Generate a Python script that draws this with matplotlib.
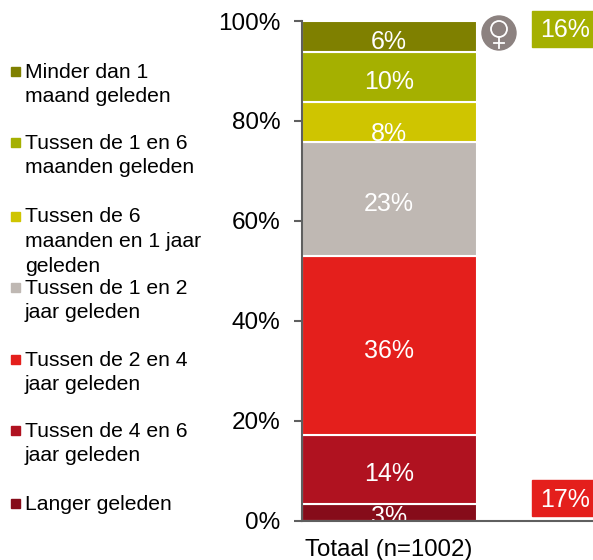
import matplotlib
matplotlib.use("Agg")
import matplotlib.pyplot as plt
from matplotlib.patches import Circle, Rectangle

plt.rcParams['font.family'] = ['Liberation Sans', 'DejaVu Sans']

category = 'Totaal (n=1002)'
values = [3.4, 13.7, 35.8, 22.8, 8.0, 10.0, 6.3]
colors = ['#860C1A', '#B01220', '#E41F1C', '#BFB8B3', '#CFC500', '#A5B000', '#7F8000']
legend_labels = ['Langer geleden', 'Tussen de 4 en 6\njaar geleden',
                 'Tussen de 2 en 4\njaar geleden', 'Tussen de 1 en 2\njaar geleden',
                 'Tussen de 6\nmaanden en 1 jaar\ngeleden', 'Tussen de 1 en 6\nmaanden geleden',
                 'Minder dan 1\nmaand geleden']
legend_y = [504, 443, 372, 300, 241, 155, 84]
yticks = [0, 20, 40, 60, 80, 100]
female_share = '16%'
male_share = '17%'

W, H = 593, 560
axis_col = '#5F5F5F'

fig = plt.figure(figsize=(W / 100, H / 100), dpi=100)
ax = fig.add_axes([301.5 / W, 1 - 520.5 / H, 291.5 / W, 499.5 / H])

bottom = 0
for v, c in zip(values, colors):
    ax.bar(0, v, 1, bottom=bottom, color=c, edgecolor='white', linewidth=1.5, zorder=2)
    # labels sit a bit low in the segments
    off = -8 if round(v) == 8 else -3.5
    ax.annotate('{0}%'.format(round(v)), (0, bottom + v / 2), xytext=(0, off),
                textcoords='offset points', ha='center', va='center',
                color='white', fontsize=18, zorder=3)
    bottom += v

ax.set_xlim(-0.5, -0.5 + 291.5 / 175)
ax.set_ylim(0, 100)
ax.set_xticks([0], [category])
ax.set_yticks(yticks, ['{0}%'.format(t) for t in yticks])
ax.tick_params(axis='x', length=0, labelsize=17.3, pad=13.5)
ax.tick_params(axis='y', length=6, width=1.5, color=axis_col, labelsize=17.5, pad=9)
for s in ['top', 'right']:
    ax.spines[s].set_visible(False)
for s in ['left', 'bottom']:
    ax.spines[s].set_color(axis_col)
    ax.spines[s].set_linewidth(1.5)
    ax.spines[s].set_zorder(4)

# overlay in pixel coordinates for the legend and the callouts
ov = fig.add_axes([0, 0, 1, 1], facecolor='none')
ov.set_xlim(0, W)
ov.set_ylim(H, 0)
ov.axis('off')

for lab, y, c in zip(legend_labels, legend_y, colors):
    n = lab.count('\n')
    ov.add_patch(Rectangle((11, y - n * 12.2 - 5), 9, 9, color=c))
    ov.text(25, y + 0.5, lab, ha='left', va='center', fontsize=15.2, linespacing=1.38, color='black')

ov.add_patch(Rectangle((532, 11), 61, 36, color=colors[5]))
ov.text(565, 30, female_share, color='white', fontsize=18, ha='center', va='center')
ov.add_patch(Rectangle((532, 480), 61, 36, color=colors[2]))
ov.text(565, 500, male_share, color='white', fontsize=18, ha='center', va='center')

# female symbol in a grey disc
ov.add_patch(Circle((499, 33), 17, color='#8C8280'))
ov.add_patch(Circle((499, 29), 8, fill=False, edgecolor='white', linewidth=1.3))
ov.plot([499, 499], [37, 48], color='white', linewidth=1.3)
ov.plot([494, 504], [43, 43], color='white', linewidth=1.3)

fig.savefig('out.png', dpi=100)
